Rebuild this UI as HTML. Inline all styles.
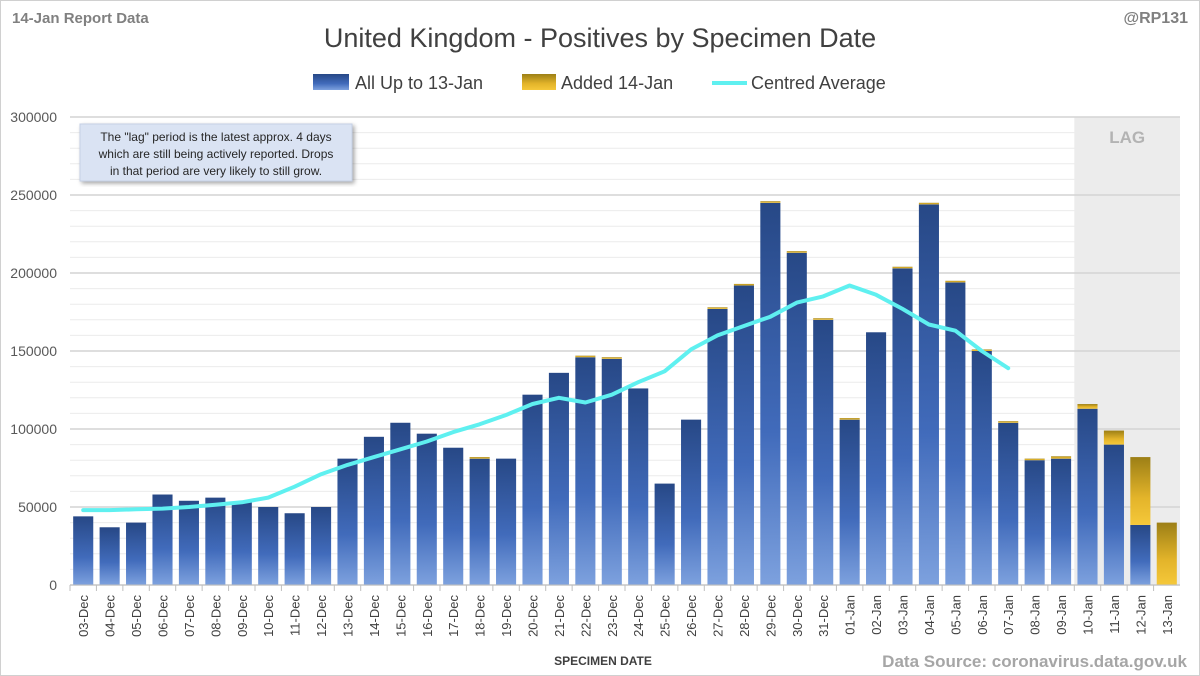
<!DOCTYPE html>
<html><head><meta charset="utf-8"><style>
body{margin:0;background:#fff;font-family:"Liberation Sans",sans-serif}
#wrap{position:relative;width:1200px;height:676px;overflow:hidden;background:#fff}
</style></head><body>
<div id="wrap">
<svg id="svg" width="1200" height="676" xmlns="http://www.w3.org/2000/svg">
<defs>
<linearGradient id="gb" x1="0" y1="0" x2="0" y2="1"><stop offset="0" stop-color="#274886"/><stop offset="0.6" stop-color="#416bbb"/><stop offset="1" stop-color="#7da1de"/></linearGradient>
<linearGradient id="gg" x1="0" y1="0" x2="0" y2="1"><stop offset="0" stop-color="#9c7f16"/><stop offset="0.6" stop-color="#e3b42a"/><stop offset="1" stop-color="#f5c83a"/></linearGradient>
<filter id="sh"><feDropShadow dx="2" dy="2" stdDeviation="2" flood-opacity="0.35"/></filter>
</defs>
<rect x="0.5" y="0.5" width="1199" height="675" fill="none" stroke="#d0d0d0"/>
<g id="grid"></g>
<g id="bars"></g>
<g id="line"></g>
<g id="axes"></g>
</svg>
</div>
<script>
const categories=["03-Dec","04-Dec","05-Dec","06-Dec","07-Dec","08-Dec","09-Dec","10-Dec","11-Dec","12-Dec","13-Dec","14-Dec","15-Dec","16-Dec","17-Dec","18-Dec","19-Dec","20-Dec","21-Dec","22-Dec","23-Dec","24-Dec","25-Dec","26-Dec","27-Dec","28-Dec","29-Dec","30-Dec","31-Dec","01-Jan","02-Jan","03-Jan","04-Jan","05-Jan","06-Jan","07-Jan","08-Jan","09-Jan","10-Jan","11-Jan","12-Jan","13-Jan"];
const upTo13=[44000,37000,40000,58000,54000,56000,53000,50000,46000,50000,81000,95000,104000,97000,88000,81000,81000,122000,136000,146000,145000,126000,65000,106000,177000,192000,245000,213000,170000,106000,162000,203000,244000,194000,150000,104000,80000,81000,113000,90000,38500,0];
const added14=[0,0,0,0,0,0,0,0,0,0,0,0,0,0,0,1000,0,0,0,1000,1000,0,0,0,1000,1000,1000,1000,1000,1000,0,1000,1000,1000,1000,1000,1000,1500,3000,9000,43500,40000];
const centredAvg=[48000,48000,48500,49000,50000,51500,53000,56000,63000,71000,77000,82000,87000,92000,98000,103000,109000,116000,120000,117000,122000,130000,137000,151000,160000,166000,172000,181000,185000,192000,186000,177000,167000,163000,150000,139000];
const yTicks=[0,50000,100000,150000,200000,250000,300000];
const NS="http://www.w3.org/2000/svg";
const L=70,R=1180,T=117,B=585,yMax=300000;
const step=(R-L)/categories.length;
const x=i=>L+step*(i+0.5);
const y=v=>B-(v/yMax)*(B-T);
function mk(tag,attrs,parent,text){const e=document.createElementNS(NS,tag);for(const k in attrs)e.setAttribute(k,attrs[k]);if(text!==undefined)e.textContent=text;parent.appendChild(e);return e;}
const grid=document.getElementById('grid'),bars=document.getElementById('bars'),line=document.getElementById('line'),axes=document.getElementById('axes');
const lag=mk('rect',{x:x(38)-step/2,y:T,width:R-(x(38)-step/2),height:B-T,fill:'#ececec'},grid);


for(let v=0;v<=yMax;v+=10000){const g=mk('line',{x1:L,x2:R,y1:y(v),y2:y(v),stroke:v%50000===0?'#d4d4d4':'#ececec','stroke-width':v%50000===0?1.5:1},grid);

}
const lagBg=mk('rect',{x:x(38)+2,y:T+8,width:R-x(38)-6,height:24,fill:'#ececec'},grid);


const lagT=mk('text',{x:(x(38)-step/2+R)/2,y:T+26,'text-anchor':'middle','font-size':17,'font-weight':'bold',fill:'#b3b3b3'},grid,'LAG');


yTicks.forEach(v=>{const t=mk('text',{x:57,y:y(v)+5,'text-anchor':'end','font-size':14,fill:'#595959'},axes,String(v));

});
const bw=step*0.76;
categories.forEach((c,i)=>{
 if(upTo13[i]>0){const b=mk('rect',{x:x(i)-bw/2,y:y(upTo13[i]),width:bw,height:B-y(upTo13[i]),fill:'url(#gb)'},bars);
 
 }
 if(added14[i]>0){const top=y(upTo13[i]+added14[i]);const a=mk('rect',{x:x(i)-bw/2,y:top,width:bw,height:y(upTo13[i])-top,fill:'url(#gg)'},bars);
 
 }
 const tk=mk('line',{x1:x(i)-step/2,x2:x(i)-step/2,y1:B,y2:B+6,stroke:'#bfbfbf'},axes);
 
 
 const t=mk('text',{x:0,y:0,transform:`translate(${x(i)+5},${B+10}) rotate(-90)`,'text-anchor':'end','font-size':13,fill:'#404040'},axes,c);
 
 
});
const ax=mk('line',{x1:L,x2:R,y1:B,y2:B,stroke:'#bfbfbf'},axes);


let d='';centredAvg.forEach((v,i)=>{d+=(i?'L':'M')+x(i).toFixed(1)+','+y(v).toFixed(1);});
const p=mk('path',{d:d,fill:'none',stroke:'#5ff0f0','stroke-width':4,'stroke-linejoin':'round','stroke-linecap':'round'},line);


function txt(name,attrs,s){const t=mk('text',attrs,axes,s);return t;}
txt('chart-title',{x:600,y:47,'text-anchor':'middle','font-size':27,fill:'#404040'},'United Kingdom - Positives by Specimen Date');
txt('report-label',{x:12,y:23,'font-size':15,'font-weight':'bold',fill:'#808080'},'14-Jan Report Data');
txt('author-label',{x:1188,y:23,'text-anchor':'end','font-size':16,'font-weight':'bold',fill:'#808080'},'@RP131');
txt('x-axis-title',{x:603,y:665,'text-anchor':'middle','font-size':12,'font-weight':'bold',fill:'#404040'},'SPECIMEN DATE');
txt('data-source',{x:1187,y:667,'text-anchor':'end','font-size':17,'font-weight':'bold',fill:'#a6a6a6'},'Data Source: coronavirus.data.gov.uk');
const lg=mk('g',{},axes);
const l1=mk('rect',{x:313,y:74,width:36,height:16,fill:'url(#gb)'},lg);
const lt1=mk('text',{x:355,y:89,'font-size':18,fill:'#404040'},lg,'All Up to 13-Jan');
const l2=mk('rect',{x:522,y:74,width:34,height:16,fill:'url(#gg)'},lg);
const lt2=mk('text',{x:561,y:89,'font-size':18,fill:'#404040'},lg,'Added 14-Jan');
const l3=mk('line',{x1:712,x2:747,y1:83,y2:83,stroke:'#5ff0f0','stroke-width':4},lg);
const lt3=mk('text',{x:751,y:89,'font-size':18,fill:'#404040'},lg,'Centred Average');
const nb=mk('g',{},axes);
mk('rect',{x:80,y:124,width:272,height:57,fill:'#dae3f3',stroke:'#c5d0e6',filter:'url(#sh)'},nb);
['The "lag" period is the latest approx. 4 days','which are still being actively reported.  Drops','in that period are very likely to still grow.'].forEach((s,i)=>{mk('text',{x:216,y:141+i*17,'text-anchor':'middle','font-size':12,fill:'#262626'},nb,s);});
</script>
</body></html>
